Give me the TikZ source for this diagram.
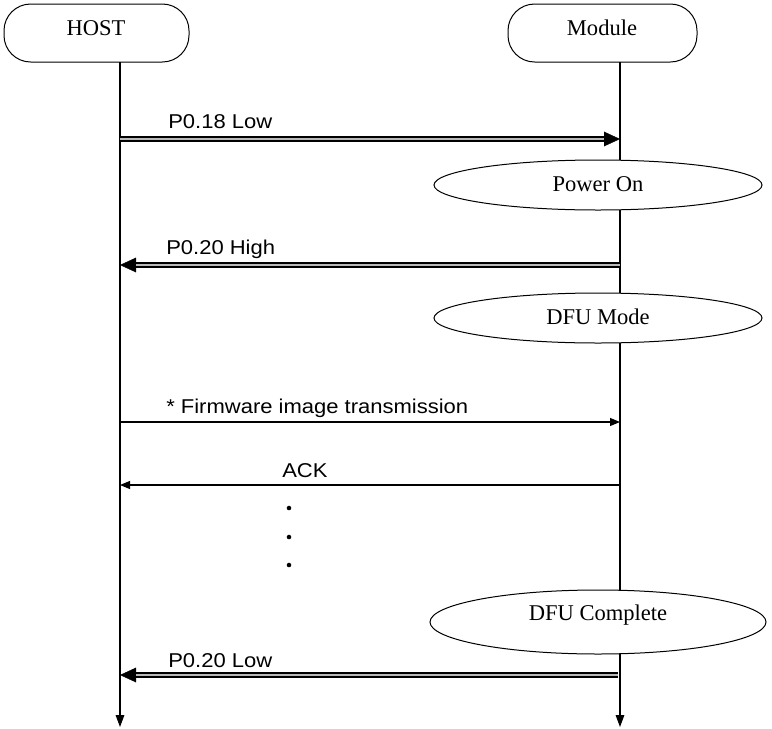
\documentclass[tikz,border=0pt]{standalone}
\usepackage{fontspec}
\setmainfont{Liberation Serif}
\newfontfamily\labfont[FakeStretch=1.1]{Liberation Sans}
\usetikzlibrary{arrows.meta,shapes.geometric}
\begin{document}
\begin{tikzpicture}[x=0.75pt,y=-0.75pt,
  actor/.style={draw,line width=0.75pt,rounded corners=20pt,fill=white},
  state/.style={draw,ellipse,line width=0.75pt,fill=white,inner sep=0pt},
  serif/.style={font=\fontsize{16.9pt}{18pt}\selectfont},
  lab/.style={font=\labfont\fontsize{15pt}{17pt}\selectfont,anchor=west,inner sep=0pt},
  life/.style={line width=0.8pt,-{Triangle[length=9pt,width=6.5pt]}},
  dblout/.style={line width=4pt,-{Triangle[length=12pt,width=11pt,line width=0.3pt]}},
  dblin/.style={line width=1pt,draw=gray!55,shorten >=12pt},
  msg/.style={line width=0.8pt,-{Triangle[length=7.5pt,width=6pt]}},
  dot/.style={circle,fill=black,inner sep=0pt,minimum size=3.4pt}]
\useasboundingbox (0,0) rectangle (772,729);
% actors
\draw[actor] (4,4) rectangle (189,62);
\node[serif] (host) at (96,28) {HOST};
\draw[actor] (508,4) rectangle (697,62);
\node[serif] (module) at (602,28) {Module};
% lifeline points
\coordinate (h0) at (120,62);
\coordinate (m0) at (620,62);
\coordinate (hend) at (120,727);
\coordinate (mend) at (620,727);
\draw[life] (h0) -- (hend);
\draw[life] (m0) -- (mend);
% states
\node[state,minimum width=328pt*0.75,minimum height=50pt*0.75] (pon) at (598,185) {};
\node[serif] at (598,184) {Power On};
\node[state,minimum width=328pt*0.75,minimum height=50pt*0.75] (dfu) at (598,318) {};
\node[serif] at (598,317) {DFU Mode};
\node[state,minimum width=336pt*0.75,minimum height=64pt*0.75] (dfuc) at (598,622) {};
\node[serif] at (598,615) {DFU Complete};
% messages
\coordinate (h1) at (120,139); \coordinate (m1) at (620,139);
\draw[dblout] (h1) -- (m1); \draw[dblin] (h1) -- (m1);
\node[lab] (l1) at (168,122) {P0.18 Low};
\coordinate (h2) at (120,265); \coordinate (m2) at (620,265);
\draw[dblout] (m2) -- (h2); \draw[dblin] (m2) -- (h2);
\node[lab] (l2) at (166,249) {P0.20 High};
\coordinate (h3) at (120,422); \coordinate (m3) at (620,422);
\draw[msg] (h3) -- (m3);
\node[lab] (l3) at (166,408) {* Firmware image transmission};
\coordinate (h4) at (120,485); \coordinate (m4) at (620,485);
\draw[msg] (m4) -- (h4);
\node[lab] (l4) at (282,471) {ACK};
\node[dot] (d1) at (289,508) {};
\node[dot] (d2) at (289,537) {};
\node[dot] (d3) at (289,565) {};
\coordinate (h5) at (120,675); \coordinate (m5) at (618,675);
\draw[dblout] (m5) -- (h5); \draw[dblin] (m5) -- (h5);
\node[lab] (l5) at (168,661) {P0.20 Low};
\end{tikzpicture}
\end{document}
